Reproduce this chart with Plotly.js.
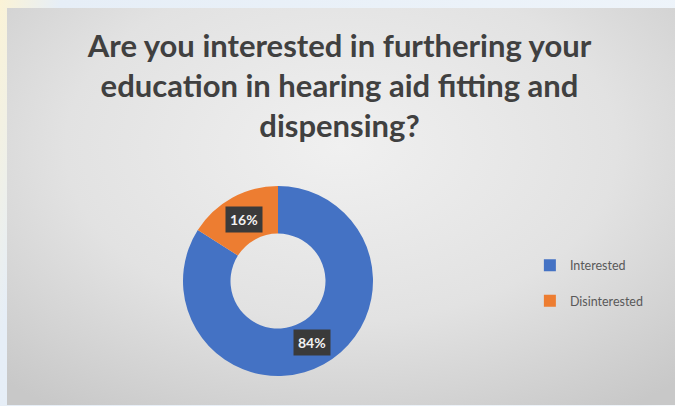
<!DOCTYPE html>
<html>
<head>
<meta charset="utf-8">
<script src="https://cdn.plot.ly/plotly-3.0.1.min.js"></script>
<style>
  html, body { margin: 0; padding: 0; background: #ffffff; }
  #wrap { position: relative; width: 675px; height: 406px; overflow: hidden;
          background: linear-gradient(100deg, #fbf3d6 0px, #e6eef7 60px, #eef4fa 700px, #ffffff 760px, #e4edf6 1000px); }
  #frame { position: absolute; left: 7px; top: 8px; width: 668px; height: 397px;
           background: radial-gradient(ellipse 75% 80% at 50% 35%, #f0f0f0 0%, #e2e2e2 55%, #c8c8c8 100%); }
  #chart { position: absolute; left: 0; top: 0; width: 675px; height: 406px; }
</style>
</head>
<body>
<div id="wrap">
  <div id="frame"></div>
  <div id="chart"></div>
</div>
<script>
const titleText = "Are you interested in furthering your<br>education in hearing aid fitting and<br>dispensing?";
const categories = ["Interested", "Disinterested"];
const values = [84, 16];
const colors = ["#4472C4", "#ED7D31"];

const W = 675, H = 406;
const cx = 278, cy = 281, R = 95, hole = 0.5;

const dom = {
  x: [(cx - R) / W, (cx + R) / W],
  y: [(H - cy - R) / H, (H - cy + R) / H]
};

// label annotations placed at the middle of each ring segment (clockwise from 12 o'clock)
const total = values.reduce((a, b) => a + b, 0);
const annotations = [];
let acc = 0;
const rMid = R * 0.74;
values.forEach((v, i) => {
  const mid = (acc + v / 2) / total * 2 * Math.PI;
  acc += v;
  const px = cx + rMid * Math.sin(mid);
  const py = cy - rMid * Math.cos(mid);
  annotations.push({
    xref: "paper", yref: "paper",
    x: px / W, y: (H - py) / H,
    xanchor: "center", yanchor: "middle",
    text: "<b>" + Math.round(v / total * 100) + "%</b>",
    showarrow: false,
    font: { family: "Lato, 'Open Sans', sans-serif", size: 14, color: "#f2f2f2" },
    bgcolor: "#3a3a3a",
    borderpad: 4
  });
});

const trace = {
  type: "pie",
  labels: categories.map(c => c + "<br> "),
  values: values,
  hole: hole,
  sort: false,
  direction: "clockwise",
  rotation: 0,
  textinfo: "none",
  marker: { colors: colors, line: { width: 0 } },
  domain: dom
};

const layout = {
  width: W, height: H,
  margin: { l: 0, r: 0, t: 0, b: 0 },
  paper_bgcolor: "rgba(0,0,0,0)",
  plot_bgcolor: "rgba(0,0,0,0)",
  title: {
    text: "<b>" + titleText + "</b>",
    font: { family: "Lato, 'Open Sans', sans-serif", size: 31, color: "#404040" },
    x: 0.503, xanchor: "center",
    y: 0.86, yanchor: "top"
  },
  showlegend: true,
  legend: {
    x: 0.785, y: 0.283, xanchor: "left", yanchor: "middle",
    valign: "top",
    bgcolor: "rgba(0,0,0,0)",
    font: { family: "Lato, 'Open Sans', sans-serif", size: 12.5, color: "#595959" },
    itemwidth: 30,
    tracegroupgap: 0
  },
  annotations: annotations
};

Plotly.newPlot("chart", [trace], layout, { displayModeBar: false, staticPlot: true });
</script>
</body>
</html>
